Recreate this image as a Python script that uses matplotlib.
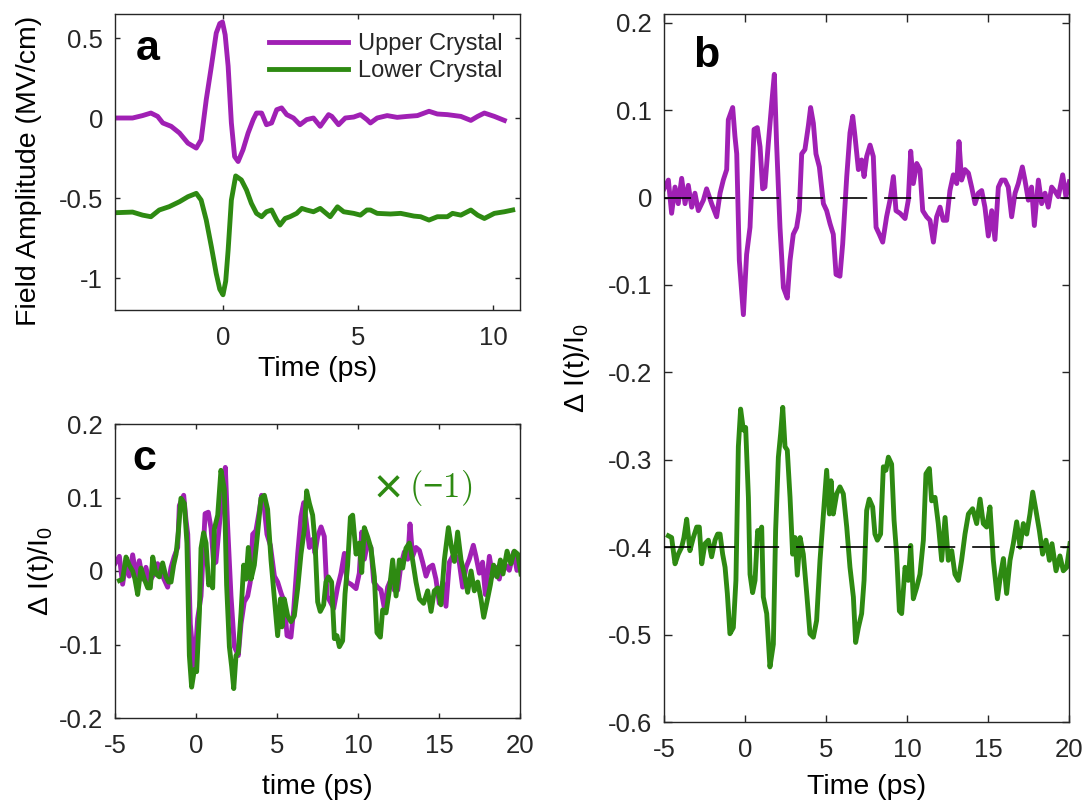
import matplotlib
matplotlib.use("Agg")
import matplotlib.pyplot as plt
from matplotlib.lines import Line2D

# ---------------- data ----------------
# Panel a: field amplitude (MV/cm) vs time (ps)
t_a_upper = [-4.00, -3.35, -2.98, -2.67, -2.42, -2.23, -1.92, -1.61, -1.30, -0.99, -0.81, -0.62,
             -0.43, -0.25, -0.12, -0.02, 0.08, 0.19, 0.31, 0.43, 0.56, 0.74, 0.93, 1.12, 1.24, 1.43,
             1.61, 1.80, 1.99, 2.17, 2.36, 2.61, 2.85, 3.10, 3.35, 3.60, 3.91, 4.03, 4.28, 4.53,
             4.84, 5.09, 5.33, 5.46, 5.71, 6.08, 6.45, 6.82, 7.20, 7.63, 7.94, 8.31, 8.81, 9.18,
             9.43, 9.68, 10.05, 10.42]
E_upper = [0.000, 0.000, 0.015, 0.031, 0.010, -0.031, -0.052, -0.094, -0.157, -0.188, -0.136, 0.115,
           0.324, 0.531, 0.590, 0.600, 0.520, 0.324, -0.031, -0.241, -0.272, -0.199, -0.094, -0.010, 0.031, 0.031,
           -0.042, -0.031, 0.052, 0.063, 0.021, 0.000, -0.042, -0.010, 0.000, -0.052, 0.021, 0.010, -0.042, 0.000,
           0.006, 0.021, -0.010, -0.031, 0.000, 0.015, 0.004, 0.010, 0.015, 0.042, 0.025, 0.021, 0.010, -0.015,
           0.010, 0.031, 0.010, -0.015]
t_a_lower = [-4.00, -3.35, -2.98, -2.67, -2.36, -1.99, -1.61, -1.30, -0.99, -0.81, -0.62, -0.43,
             -0.25, -0.12, 0.00, 0.10, 0.19, 0.31, 0.47, 0.68, 0.87, 1.05, 1.24, 1.43, 1.61, 1.80, 1.99,
             2.11, 2.30, 2.48, 2.73, 2.92, 3.10, 3.35, 3.60, 3.97, 4.24, 4.47, 4.84, 5.09, 5.33,
             5.46, 5.71, 6.20, 6.58, 7.07, 7.32, 7.63, 7.94, 8.31, 8.50, 8.81, 9.18, 9.43, 9.68,
             10.05, 10.42, 10.73]
E_lower = [-0.592, -0.588, -0.607, -0.617, -0.575, -0.554, -0.523, -0.492, -0.471, -0.513, -0.638, -0.805,
           -0.973, -1.070, -1.105, -1.020, -0.826, -0.513, -0.362, -0.387, -0.450, -0.533, -0.596, -0.617, -0.586, -0.575, -0.638,
           -0.669, -0.628, -0.617, -0.596, -0.565, -0.575, -0.586, -0.565, -0.617, -0.555, -0.586, -0.596, -0.607, -0.575,
           -0.575, -0.596, -0.600, -0.596, -0.613, -0.617, -0.638, -0.617, -0.617, -0.596, -0.607, -0.575, -0.607, -0.628,
           -0.596, -0.586, -0.575]

# Panel b/c: Delta I(t)/I0 vs time (ps)
t_b_upper = [-5.00, -4.73, -4.53, -4.32, -4.12, -3.91, -3.70, -3.50, -3.29, -3.09, -2.88, -2.57, -2.37,
             -2.06, -1.75, -1.54, -1.34, -1.13, -1.03, -0.76, -0.62, -0.51, -0.35, -0.10, 0.10, 0.31,
             0.56, 0.76, 0.93, 1.09, 1.23, 1.44, 1.65, 1.81, 1.95, 2.16, 2.37, 2.61, 2.78, 2.98,
             3.19, 3.35, 3.50, 3.70, 3.91, 4.05, 4.22, 4.38, 4.59, 4.84, 5.04, 5.25, 5.45, 5.62,
             5.86, 6.03, 6.28, 6.48, 6.65, 6.79, 7.00, 7.20, 7.35, 7.51, 7.72, 7.92, 8.09, 8.29,
             8.50, 8.74, 8.95, 9.16, 9.32, 9.57, 9.88, 10.08, 10.23, 10.39, 10.60, 10.80, 10.97,
             11.21, 11.42, 11.63, 11.83, 12.04, 12.24, 12.45, 12.65, 12.86, 13.07, 13.21, 13.37,
             13.58, 13.79, 13.99, 14.20, 14.40, 14.61, 14.81, 15.02, 15.23, 15.43, 15.64, 15.84,
             16.05, 16.25, 16.46, 16.67, 16.87, 17.12, 17.28, 17.49, 17.69, 17.86, 18.11, 18.31,
             18.52, 18.72, 18.93, 19.14, 19.34, 19.61, 19.81, 20.02]
dI_upper = [0.010, 0.020, -0.018, 0.012, -0.007, 0.022, -0.007, 0.014, -0.011, 0.005, -0.015, -0.003, 0.010,
            -0.007, -0.022, 0.005, 0.020, 0.032, 0.089, 0.103, 0.070, 0.050, -0.072, -0.134, -0.065, -0.034,
            0.078, 0.080, 0.058, 0.010, 0.012, 0.062, 0.108, 0.141, 0.062, -0.034, -0.103, -0.115, -0.072, -0.042,
            -0.034, -0.015, 0.050, 0.055, 0.082, 0.103, 0.085, 0.050, 0.035, -0.007, -0.015, -0.030, -0.042, -0.088,
            -0.090, -0.053, 0.024, 0.074, 0.093, 0.070, 0.032, 0.043, 0.024, 0.047, 0.060, 0.047, -0.034, -0.042,
            -0.051, -0.022, -0.003, 0.024, -0.015, -0.018, -0.024, -0.003, 0.053, 0.016, 0.039, 0.032, -0.015,
            -0.022, -0.026, -0.051, -0.022, -0.011, -0.026, -0.026, 0.008, 0.026, 0.016, 0.064, 0.020,
            0.032, 0.028, 0.012, -0.007, 0.005, 0.008, -0.011, -0.044, -0.015, -0.048, 0.012, 0.020,
            0.020, 0.012, -0.022, 0.005, 0.016, 0.035, 0.020, -0.003, 0.012, -0.032, 0.020, -0.007,
            0.005, -0.011, 0.012, 0.007, 0.001, 0.026, 0.001, 0.018]
t_b_lower = [-4.73, -4.53, -4.32, -4.12, -3.91, -3.77, -3.60, -3.40, -3.19, -2.98, -2.82, -2.67, -2.47,
             -2.26, -2.06, -1.85, -1.69, -1.54, -1.38, -1.23, -1.09, -0.93, -0.72, -0.56, -0.41, -0.27,
             -0.10, 0.04, 0.21, 0.31, 0.47, 0.62, 0.78, 0.88, 1.03, 1.13, 1.34, 1.54, 1.75, 1.89,
             2.06, 2.20, 2.33, 2.47, 2.61, 2.78, 2.94, 3.09, 3.23, 3.40, 3.60, 3.81, 4.01, 4.22,
             4.42, 4.63, 4.84, 5.04, 5.21, 5.31, 5.45, 5.66, 5.86, 6.07, 6.28, 6.48, 6.69, 6.83,
             7.00, 7.20, 7.35, 7.51, 7.67, 7.88, 8.02, 8.17, 8.37, 8.54, 8.70, 8.85, 9.05, 9.20,
             9.36, 9.53, 9.67, 9.88, 10.08, 10.23, 10.39, 10.60, 10.80, 11.01, 11.17, 11.38, 11.52,
             11.73, 11.93, 12.14, 12.35, 12.55, 12.76, 12.96, 13.17, 13.37, 13.58, 13.79, 14.05,
             14.30, 14.51, 14.71, 14.92, 15.12, 15.33, 15.58, 15.78, 15.95, 16.15, 16.36, 16.56,
             16.77, 16.98, 17.18, 17.39, 17.59, 17.76, 17.96, 18.17, 18.37, 18.58, 18.79, 18.95,
             19.20, 19.44, 19.65, 19.86, 20.06]
dI_lower = [0.013, 0.011, -0.019, -0.008, 0.000, 0.011, 0.032, -0.004, 0.011, 0.023, 0.023, -0.019, 0.004,
            0.008, -0.011, 0.008, 0.015, 0.015, -0.008, -0.023, -0.053, -0.099, -0.092, -0.038, 0.115, 0.158,
            0.134, 0.137, 0.057, -0.031, -0.052, -0.038, 0.019, 0.015, 0.023, -0.057, -0.076, -0.137, -0.111, 0.019,
            0.103, 0.130, 0.160, 0.115, 0.111, 0.057, -0.008, 0.011, -0.032, 0.011, -0.008, -0.053, -0.099, -0.103,
            -0.084, -0.015, 0.038, 0.088, 0.038, 0.076, 0.038, 0.061, 0.069, 0.061, 0.023, -0.023, -0.057, -0.109,
            -0.092, -0.076, -0.038, 0.042, 0.055, 0.046, 0.015, 0.008, 0.015, 0.092, 0.088, 0.103, 0.095, 0.031,
            -0.008, -0.073, -0.076, -0.023, -0.038, 0.002, -0.059, -0.046, -0.031, 0.008, 0.084, 0.090, 0.053,
            0.057, 0.027, -0.015, 0.034, -0.015, -0.004, -0.031, -0.038, -0.015, 0.015, 0.038, 0.044,
            0.027, 0.055, 0.027, 0.023, 0.046, -0.015, -0.059, -0.031, -0.013, -0.053, -0.015, 0.004,
            0.029, 0.000, 0.027, 0.015, 0.038, 0.063, 0.042, 0.019, -0.008, 0.008, -0.015, 0.004,
            -0.027, -0.010, -0.027, -0.023, 0.004]
lower_offset = -0.4

# ticks
a_xticks = [0, 5, 10]
a_yticks = [0.5, 0, -0.5, -1]
a_yticklabels = ["0.5", "0", "-0.5", "-1"]
bc_xticks = [-5, 0, 5, 10, 15, 20]
b_yticks = [0.2, 0.1, 0, -0.1, -0.2, -0.3, -0.4, -0.5, -0.6]
b_yticklabels = ["0.2", "0.1", "0", "-0.1", "-0.2", "-0.3", "-0.4", "-0.5", "-0.6"]
c_yticks = [0.2, 0.1, 0, -0.1, -0.2]
c_yticklabels = ["0.2", "0.1", "0", "-0.1", "-0.2"]

# ---------------- style ----------------
PURPLE = "#A020B4"
GREEN = "#2E8A12"
AX = "#262626"
plt.rcParams["font.family"] = ["Liberation Sans", "DejaVu Sans"]
plt.rcParams["mathtext.default"] = "regular"
plt.rcParams["axes.unicode_minus"] = False
plt.rcParams["lines.scale_dashes"] = False
plt.rcParams["text.color"] = AX
LW = 3.5
TICK_FS = 18.5
LAB_FS = 20.5

fig = plt.figure(figsize=(10.91, 8.09), dpi=100)
W, H = 1091, 809


def make_ax(left, top, right, bottom, ticklen):
    ax = fig.add_axes([left / W, 1 - bottom / H, (right - left) / W, (bottom - top) / H])
    for s in ax.spines.values():
        s.set_color(AX)
        s.set_linewidth(1.0)
    ax.tick_params(direction="in", top=True, right=True, length=ticklen, width=1.0,
                   colors=AX, labelsize=TICK_FS, labelcolor=AX)
    ax.tick_params(axis="x", pad=11.5)
    ax.tick_params(axis="y", pad=8.5)
    return ax


ylab_b = r"$\Delta$ I(t)/I$_0$"

# ---- panel a ----
axa = make_ax(115, 14, 520, 310, 3.6)
axa.plot(t_a_upper, E_upper, color=PURPLE, lw=LW, solid_joinstyle="round")
axa.plot(t_a_lower, E_lower, color=GREEN, lw=LW, solid_joinstyle="round")
axa.set_xlim(-4, 11)
axa.set_ylim(-1.2, 0.65)
axa.set_xticks(a_xticks)
axa.set_yticks(a_yticks)
axa.set_yticklabels(a_yticklabels)
axa.set_xlabel("Time (ps)", fontsize=LAB_FS)
axa.xaxis.set_label_coords(0.5, -0.155)
axa.set_ylabel("Field Amplitude (MV/cm)", fontsize=LAB_FS)
axa.yaxis.set_label_coords(-0.18, 0.47)
axa.text(0.052, 0.845, "a", transform=axa.transAxes, fontsize=31, fontweight="bold",
         color="black", va="baseline", ha="left")
handles = [Line2D([], [], color=PURPLE, lw=LW), Line2D([], [], color=GREEN, lw=LW)]
axa.legend(handles, ["Upper Crystal", "Lower Crystal"], loc="upper right",
           bbox_to_anchor=(0.958, 0.935), frameon=False, fontsize=17,
           handlelength=3.35, handletextpad=0.42, labelspacing=0.22,
           borderaxespad=0, borderpad=0, labelcolor=AX)

# ---- panel b ----
axb = make_ax(664, 14, 1069, 722, 5.4)
axb.plot(t_b_upper, dI_upper, color=PURPLE, lw=LW, solid_joinstyle="round")
axb.plot(t_b_lower, [v + lower_offset for v in dI_lower], color=GREEN, lw=LW,
         solid_joinstyle="round")
for y0 in (0, lower_offset):
    axb.axhline(y0, color="black", lw=1.2, linestyle=(0, (19.5, 12.2)), zorder=3)
axb.set_xlim(-5, 20)
axb.set_ylim(-0.6, 0.21)
axb.set_xticks(bc_xticks)
axb.set_yticks(b_yticks)
axb.set_yticklabels(b_yticklabels)
axb.set_xlabel("Time (ps)", fontsize=LAB_FS)
axb.xaxis.set_label_coords(0.5, -0.074)
axb.set_ylabel(ylab_b, fontsize=LAB_FS)
axb.yaxis.set_label_coords(-0.178, 0.5)
axb.text(0.072, 0.925, "b", transform=axb.transAxes, fontsize=31, fontweight="bold",
         color="black", va="baseline", ha="left")

# ---- panel c ----
axc = make_ax(115, 424, 520, 718, 3.6)
axc.plot(t_b_upper, dI_upper, color=PURPLE, lw=LW, solid_joinstyle="round")
axc.plot(t_b_lower, [-v for v in dI_lower], color=GREEN, lw=LW, solid_joinstyle="round")
axc.set_xlim(-5, 20)
axc.set_ylim(-0.2, 0.2)
axc.set_xticks(bc_xticks)
axc.set_yticks(c_yticks)
axc.set_yticklabels(c_yticklabels)
axc.set_xlabel("time (ps)", fontsize=LAB_FS)
axc.xaxis.set_label_coords(0.5, -0.19)
axc.set_ylabel(ylab_b, fontsize=LAB_FS)
axc.yaxis.set_label_coords(-0.146, 0.5)
axc.text(0.044, 0.844, "c", transform=axc.transAxes, fontsize=31, fontweight="bold",
         color="black", va="baseline", ha="left")
axc.text(0.636, 0.782, r"$\times$", transform=axc.transAxes,
         fontsize=36, color=GREEN, va="center", ha="left", math_fontfamily="cm")
axc.text(0.725, 0.782, r"$\mathrm{(}{-}\mathrm{1)}$", transform=axc.transAxes,
         fontsize=25, color=GREEN, va="center", ha="left", math_fontfamily="cm")

fig.savefig("out.png", dpi=100)
